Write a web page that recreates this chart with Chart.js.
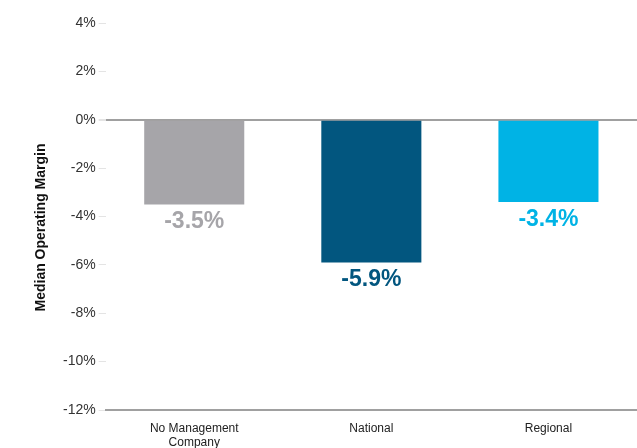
<!DOCTYPE html>
<html>
<head>
<meta charset="utf-8">
<script src="https://cdn.jsdelivr.net/npm/chart.js@4/dist/chart.umd.min.js"></script>
<style>
  html, body { margin:0; padding:0; background:#fff; }
  #wrap { width:637px; height:448px; overflow:hidden; }
</style>
</head>
<body>
<div id="wrap"><canvas id="chart" width="637" height="448"></canvas></div>
<script>
/* ---------- data ---------- */
const categories = [["No Management", "Company"], "National", "Regional"];
const margins = [-3.5, -5.9, -3.4];
const barColors = ["#a6a5a9", "#02567f", "#00b3e5"];
const yTicks = [4, 2, 0, -2, -4, -6, -8, -10, -12];
const yTitle = "Median Operating Margin";

const FONT = "'Liberation Sans', Arial, sans-serif";

/* value labels below each bar + y title (drawn by hand, sits a bit low like the original) */
const extras = {
  id: "extras",
  afterDatasetsDraw(chart){
    const ctx = chart.ctx;
    const meta = chart.getDatasetMeta(0);
    const area = chart.chartArea;
    ctx.save();
    ctx.font = "bold 23px " + FONT;
    ctx.textAlign = "center";
    ctx.textBaseline = "top";
    meta.data.forEach((bar, i) => {
      ctx.fillStyle = barColors[i];
      ctx.fillText(margins[i].toFixed(1) + "%", bar.x, bar.y + 6);
    });
    ctx.translate(41, (area.top + area.bottom) / 2 + 11);
    ctx.rotate(-Math.PI / 2);
    ctx.font = "bold 14px " + FONT;
    ctx.fillStyle = "#111";
    ctx.textBaseline = "middle";
    ctx.fillText(yTitle, 0, 0);
    ctx.restore();
  }
};

new Chart(document.getElementById("chart"), {
  type: "bar",
  data: {
    labels: categories,
    datasets: [{
      data: margins,
      backgroundColor: barColors,
      borderWidth: 0,
      categoryPercentage: 1,
      barPercentage: 0.565
    }]
  },
  options: {
    responsive: false,
    animation: false,
    layout: { padding: { top: 23, left: 60, right: 0, bottom: 0 } },
    plugins: { legend: { display: false }, tooltip: { enabled: false } },
    scales: {
      x: {
        afterFit: axis => { axis.height = 38; },
        grid: { display: false },
        border: { display: true, color: "#a0a0a0", width: 2 },
        ticks: { color: "#222", padding: 3, font: { family: FONT, size: 12 } }
      },
      y: {
        min: -12,
        max: 4,
        afterBuildTicks: axis => { axis.ticks = yTicks.map(v => ({ value: v })); },
        border: { display: false },
        grid: {
          color: c => c.tick && c.tick.value === 0 ? "#a0a0a0" : "rgba(0,0,0,0)",
          lineWidth: c => c.tick && c.tick.value === 0 ? 2 : 1,
          tickColor: "#e4e4e4",
          tickLength: 7
        },
        ticks: {
          color: "#333",
          padding: 3,
          font: { family: FONT, size: 14 },
          callback: v => v + "%"
        }
      }
    }
  },
  plugins: [extras]
});
</script>
</body>
</html>
